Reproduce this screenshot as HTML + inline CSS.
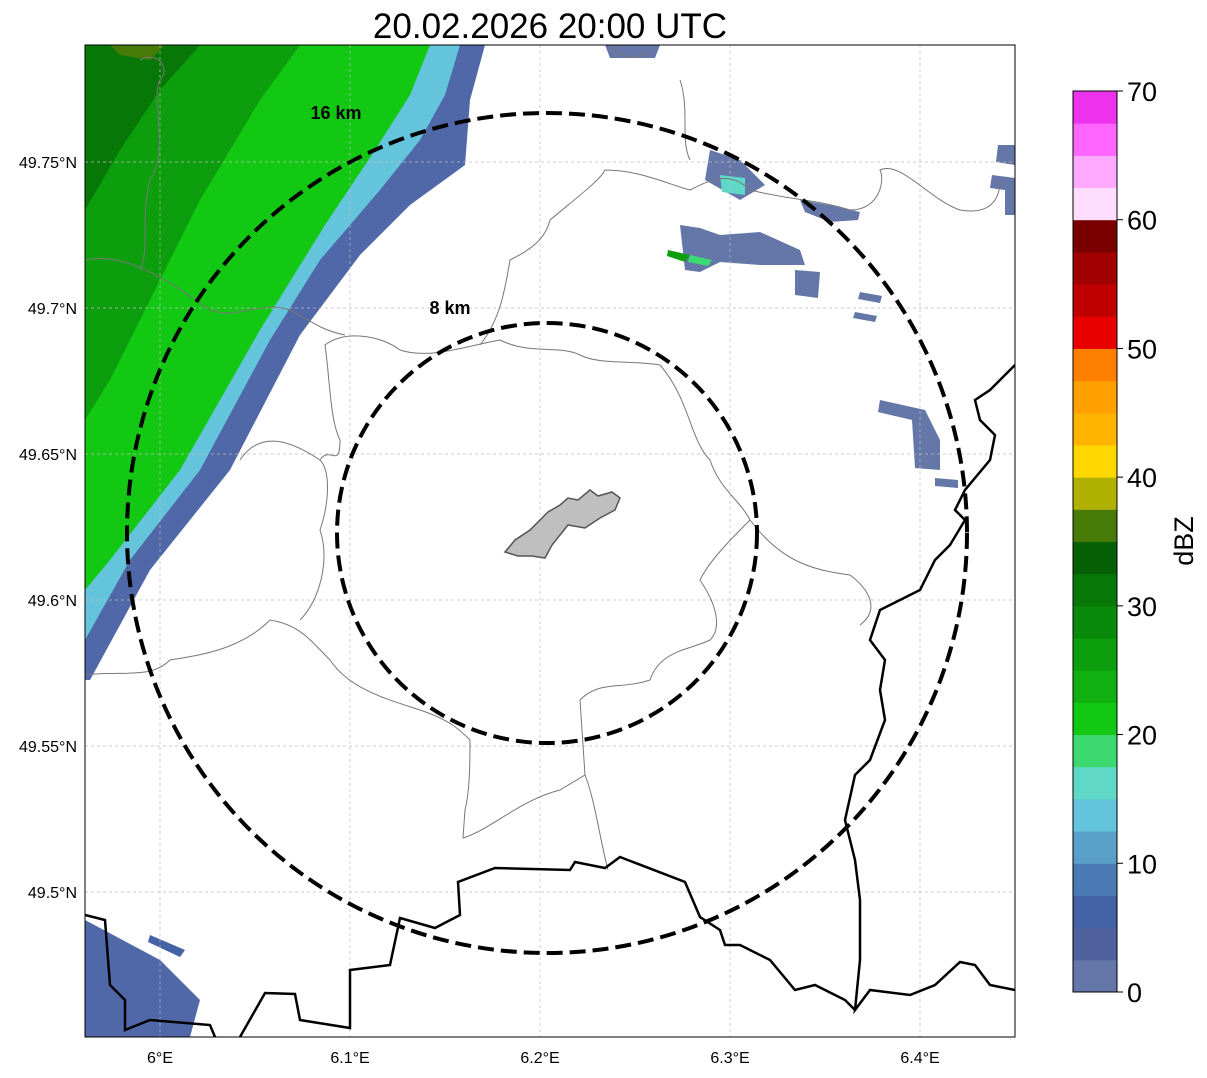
<!DOCTYPE html>
<html><head><meta charset="utf-8"><style>
body{margin:0;background:#fff;font-family:"Liberation Sans",sans-serif}
</style></head><body>
<svg width="1207" height="1073" xmlns="http://www.w3.org/2000/svg" font-family="Liberation Sans, sans-serif">
<text x="550" y="38" font-size="35" text-anchor="middle">20.02.2026 20:00 UTC</text>
<defs><clipPath id="mapclip"><rect x="85" y="45" width="930" height="992"/></clipPath></defs>
<g id="map" clip-path="url(#mapclip)">
<g>
<polygon points="85,45 485,45 470,100 465,165 410,205 360,255 300,335 230,470 150,570 90,680 85,680" fill="#5068a8"/>
<polygon points="85,45 460,45 445,95 420,140 380,190 320,260 270,340 200,470 130,560 85,640" fill="#64c4dc"/>
<polygon points="85,45 430,45 410,95 375,150 325,225 260,330 180,470 110,560 85,590" fill="#12c812"/>
<polygon points="85,45 300,45 260,100 200,200 150,300 110,380 85,420" fill="#0c9e0c"/>
<polygon points="85,45 200,45 160,90 120,150 85,210" fill="#077807"/>
<polygon points="110,45 165,45 150,60 120,55" fill="#487a08"/>
<polygon points="85,920 160,960 200,1000 190,1037 85,1037" fill="#5068a8"/>
<polygon points="150,935 185,950 180,957 148,942" fill="#4462a6"/>
<polygon points="710,150 740,160 765,185 740,200 705,180" fill="#6477a8"/>
<polygon points="720,175 745,178 745,195 722,192" fill="#5fd8c8"/>
<polygon points="680,225 700,228 720,235 760,232 800,250 805,265 760,265 720,262 700,272 685,270" fill="#6477a8"/>
<polygon points="668,250 690,255 685,262 667,256" fill="#0c9e0c"/>
<polygon points="690,255 712,260 708,266 688,262" fill="#3cd870"/>
<polygon points="795,270 820,272 818,298 795,295" fill="#6477a8"/>
<polygon points="800,200 830,205 860,212 858,220 830,222 805,212" fill="#6477a8"/>
<polygon points="880,400 925,410 940,440 940,470 915,468 912,420 878,412" fill="#6477a8"/>
<polygon points="935,478 958,480 958,488 935,486" fill="#6477a8"/>
<polygon points="860,292 882,296 880,303 858,299" fill="#6477a8"/>
<polygon points="855,312 877,316 875,322 853,318" fill="#6477a8"/>
<polygon points="998,145 1015,145 1015,165 996,162" fill="#6477a8"/>
<polygon points="992,175 1015,178 1015,215 1005,215 1005,190 990,188" fill="#6477a8"/>
<polygon points="605,45 660,45 655,58 610,58" fill="#6477a8"/>
</g>
<g stroke="#bbb" stroke-width="0.7" stroke-dasharray="3,3" id="grid"></g>
<g fill="none" stroke="#777" stroke-width="1">
<path d="M85,675 C120,670 150,680 170,660 C200,655 240,650 270,620 C300,625 310,640 330,660 C350,690 390,700 420,710 C450,720 460,730 470,740 C470,760 470,790 465,810 L463,838 C490,830 520,800 560,790 L585,775 C595,800 600,840 608,870"/>
<path d="M300,620 C320,600 330,560 320,530 C330,500 330,470 320,460 C330,445 340,470 340,440 C330,420 330,380 325,345 C345,330 380,335 400,350 C430,360 470,345 500,340 C530,355 560,345 580,355 C600,365 630,360 660,365 C690,400 690,440 710,460 C720,490 740,500 750,520"/>
<path d="M320,460 C290,440 260,430 240,460"/>
<path d="M480,345 C500,320 505,290 510,260 C530,250 545,240 550,220 C580,195 600,180 605,170 C640,170 670,185 690,190 C710,180 730,170 750,190 C790,200 820,200 850,210 C880,210 885,180 880,170 C900,160 930,200 960,210 C990,215 1000,200 1000,180"/>
<path d="M750,520 C730,540 710,560 700,580 C720,610 720,630 710,640 C690,650 660,650 650,680 C620,690 600,680 580,700 L585,775"/>
<path d="M750,520 C780,560 810,570 850,575 C870,590 880,610 860,625"/>
<path d="M85,260 C130,250 180,290 210,310 C240,320 260,300 290,310 C310,320 320,330 345,335"/>
<path d="M610,45 C620,60 640,60 650,50 M680,80 C690,110 680,140 690,160"/>
<path d="M140,60 C160,50 170,70 160,80 C150,100 170,150 150,180 C140,220 150,250 140,270"/>
</g>
<path fill="none" stroke="#000" stroke-width="2.5" d="M1015,365 L990,390 975,400 980,420 995,435 990,460 965,490 955,510 965,520 950,545 935,560 920,590 900,600 880,610 870,640 885,660 880,690 885,720 870,760 855,775 845,820 855,860 860,900 860,960 855,1010 870,990 910,995 935,985 960,962 975,965 990,985 1015,990 M85,915 L105,920 110,985 125,1000 125,1030 150,1020 210,1025 215,1037 M240,1037 L265,993 295,994 300,1020 350,1028 350,970 390,965 400,918 435,928 460,915 458,882 495,868 570,870 575,862 605,868 620,857 685,882 700,917 720,930 725,945 740,945 770,960 795,990 815,985 845,1000 855,1010"/>
<polygon points="505,552 515,540 530,530 548,512 560,505 568,498 578,500 590,490 598,496 612,492 620,498 615,510 600,518 585,528 568,525 552,545 545,558 532,556 518,556" fill="#bfbfbf" stroke="#555" stroke-width="1.5"/>
<g id="rings"></g>
</g>
<rect x="85" y="45" width="930" height="992" fill="none" stroke="#000" stroke-width="1"/>
<g id="axes" font-size="16"></g>
<g id="cbar"></g>
<text transform="translate(1193,541) rotate(-90)" font-size="27" text-anchor="middle">dBZ</text>
</svg>
<script>
const lonTicks=[6.0,6.1,6.2,6.3,6.4];
const lonLabels=["6°E","6.1°E","6.2°E","6.3°E","6.4°E"];
const latTicks=[49.75,49.7,49.65,49.6,49.55,49.5];
const latLabels=["49.75°N","49.7°N","49.65°N","49.6°N","49.55°N","49.5°N"];
const ringRadiiKm=[8,16];
const ringLabels=["8 km","16 km"];
const cbarLevels=[0,10,20,30,40,50,60,70];
const cbarColors=["#6477a8","#50629e","#4462a6","#4a7ab4","#58a0c8","#64c4dc","#5fd8c8","#3cd870","#12c812","#10b010","#0c9e0c","#0a8a0a","#077807","#056005","#487a08","#b0b000","#ffd800","#ffb400","#ff9f00","#ff7f00","#e80000","#c00000","#a00000","#7a0000","#ffddff","#ffaaff","#ff66ff","#ee33ee"];
const NS="http://www.w3.org/2000/svg";
const xs=lon=>160+(lon-6.0)*1900;
const ys=lat=>162+(49.75-lat)*2920;
const cx=547,cy=533,pxPerKm=26.25;
function mk(t,a,p){const e=document.createElementNS(NS,t);for(const k in a)e.setAttribute(k,a[k]);p.appendChild(e);return e;}
const grid=document.getElementById('grid'),axes=document.getElementById('axes');
lonTicks.forEach((v,i)=>{const x=xs(v);
const l=mk('line',{x1:x,x2:x,y1:45,y2:1037},grid);

const t=mk('text',{x:x,y:1063,'text-anchor':'middle'},axes);t.textContent=lonLabels[i];
});
latTicks.forEach((v,i)=>{const y=ys(v);
const l=mk('line',{x1:85,x2:1015,y1:y,y2:y},grid);

const t=mk('text',{x:77,y:y+6,'text-anchor':'end'},axes);t.textContent=latLabels[i];
});
const rings=document.getElementById('rings');
ringRadiiKm.forEach((r,i)=>{const R=r*pxPerKm;
const c=mk('circle',{cx:cx,cy:cy,r:R,fill:'none',stroke:'#000','stroke-width':4,'stroke-dasharray':'16,7'},rings);

const t=mk('text',{x:cx-(r===8?97:211),y:cy-R+(r===8?-9:6),'font-size':18,'font-weight':'bold','text-anchor':'middle'},rings);t.textContent=ringLabels[i];
});
const cb=document.getElementById('cbar');
const cbY=v=>992-(v/70)*901;
cbarColors.forEach((col,i)=>{const v0=i*2.5,v1=v0+2.5;
const r=mk('rect',{x:1073,y:cbY(v1),width:44,height:cbY(v0)-cbY(v1)+0.5,fill:col},cb);
});
const fr=mk('rect',{x:1073,y:91,width:44,height:901,fill:'none',stroke:'#000','stroke-width':1},cb);

cbarLevels.forEach(v=>{const y=cbY(v);
mk('line',{x1:1117,x2:1123,y1:y,y2:y,stroke:'#000'},cb);
const t=mk('text',{x:1127,y:y+10,'font-size':27},cb);t.textContent=v;
});
</script>
</body></html>
